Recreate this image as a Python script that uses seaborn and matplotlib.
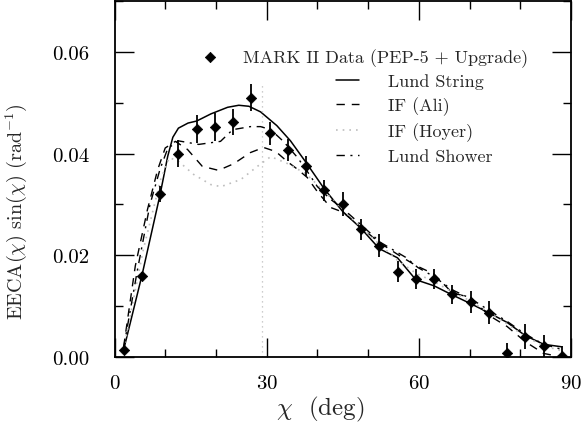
import matplotlib
matplotlib.use("Agg")
import matplotlib.pyplot as plt
import seaborn as sns
from matplotlib.ticker import MultipleLocator

# MARK II data (bin centres, deg)
chi_data = [1.8, 5.4, 9.0, 12.6, 16.2, 19.8, 23.4, 27.0, 30.6, 34.2, 37.8, 41.4, 45.0,
            48.6, 52.2, 55.8, 59.4, 63.0, 66.6, 70.2, 73.8, 77.4, 81.0, 84.6, 88.2]
eeca_data = [0.0013, 0.0160, 0.0320, 0.0400, 0.0448, 0.0452, 0.0462, 0.0510, 0.0440,
             0.0407, 0.0375, 0.0328, 0.0301, 0.0251, 0.0219, 0.0168, 0.0153, 0.0153,
             0.0123, 0.0108, 0.0087, 0.0007, 0.0040, 0.0021, 0.0002]
eeca_err = [0.0003, 0.0008, 0.0016, 0.0026, 0.0028, 0.0028, 0.0026, 0.0026, 0.0023,
            0.0021, 0.0020, 0.0021, 0.0023, 0.0021, 0.0023, 0.0020, 0.0020, 0.0020,
            0.0018, 0.0021, 0.0023, 0.0021, 0.0024, 0.0023, 0.0020]

# Lund String
chi_string = [1.8, 5.4, 9.0, 10.5, 11.5, 12.6, 14.5, 16.2, 19.0, 22.3, 24.5, 26.5, 28.8,
              32.0, 34.7, 37.8, 41.4, 45.0, 48.6, 52.2, 55.8, 59.4, 63.0, 66.6, 70.2,
              73.8, 77.4, 81.0, 84.6, 88.2]
eeca_string = [0.0014, 0.0160, 0.0320, 0.0395, 0.0432, 0.0450, 0.0460, 0.0464, 0.0478,
               0.0491, 0.0495, 0.0493, 0.0482, 0.0455, 0.0425, 0.0382, 0.0330, 0.0286,
               0.0253, 0.0213, 0.0195, 0.0152, 0.0140, 0.0122, 0.0105, 0.0087, 0.0068,
               0.0042, 0.0025, 0.0020]

# IF (Ali)
chi_ali = [1.8, 4.1, 6.5, 8.5, 10.0, 12.0, 14.4, 17.3, 20.5, 23.5, 26.8, 29.4, 31.8, 34.1,
           36.1, 38.0, 40.0, 42.6, 45.0, 48.6, 52.2, 56.4, 59.4, 63.0, 66.6, 70.2, 73.8,
           77.4, 81.0, 84.6, 88.2]
eeca_ali = [0.0020, 0.0179, 0.0290, 0.0368, 0.0411, 0.0424, 0.0408, 0.0375, 0.0367,
            0.0380, 0.0402, 0.0412, 0.0404, 0.0384, 0.0369, 0.0353, 0.0325, 0.0294,
            0.0285, 0.0255, 0.0225, 0.0198, 0.0180, 0.0163, 0.0126, 0.0117, 0.0082,
            0.0060, 0.0030, 0.0007, 0.0000]

# IF (Hoyer)
chi_hoyer = [1.8, 5.7, 9.1, 10.8, 12.6, 15.6, 19.0, 21.0, 24.9, 28.2, 30.8, 34.2, 37.8,
             41.4, 45.0, 48.6, 52.2, 55.8, 59.4, 63.0, 66.6, 70.2, 73.8, 77.4, 81.0,
             84.6, 88.2]
eeca_hoyer = [0.0015, 0.0212, 0.0349, 0.0392, 0.0385, 0.0359, 0.0339, 0.0335, 0.0349,
              0.0375, 0.0394, 0.0380, 0.0360, 0.0325, 0.0290, 0.0255, 0.0222, 0.0190,
              0.0165, 0.0148, 0.0128, 0.0110, 0.0088, 0.0065, 0.0040, 0.0022, 0.0012]
hoyer_step_chi = 29.0
hoyer_step_top = 0.0535

# Lund Shower
chi_shower = [1.8, 4.5, 7.0, 9.0, 10.5, 12.6, 16.6, 20.9, 23.3, 26.8, 28.8, 30.8, 33.3,
              36.1, 38.0, 40.0, 42.6, 45.0, 48.6, 52.5, 57.4, 59.8, 63.0, 66.6, 70.2,
              73.8, 77.4, 81.0, 84.6, 88.2]
eeca_shower = [0.0018, 0.0170, 0.0300, 0.0370, 0.0410, 0.0425, 0.0418, 0.0424, 0.0447,
               0.0453, 0.0453, 0.0447, 0.0424, 0.0392, 0.0365, 0.0335, 0.0310, 0.0292,
               0.0260, 0.0225, 0.0196, 0.0176, 0.0158, 0.0132, 0.0115, 0.0092, 0.0070,
               0.0045, 0.0025, 0.0015]

sns.set_style("ticks")
plt.rcParams["font.family"] = ["cmr10", "DejaVu Serif"]
plt.rcParams["mathtext.fontset"] = "cm"
plt.rcParams["axes.formatter.use_mathtext"] = True
plt.rcParams["axes.unicode_minus"] = False

fig = plt.figure(figsize=(5.83, 4.27), dpi=100)
ax = fig.add_axes([0.1964, 0.1616, 0.783, 0.8337])

hoyer_color = "#bdbdbd"

ax.errorbar(chi_data, eeca_data, yerr=eeca_err, fmt="none", ecolor="black",
            elinewidth=1.3, capsize=0, zorder=4)
sns.scatterplot(x=chi_data, y=eeca_data, marker="D", color="black", s=28,
                edgecolor="black", linewidth=0.5, ax=ax, zorder=5,
                label="MARK II Data (PEP-5 + Upgrade)")

sns.lineplot(x=chi_string, y=eeca_string, ax=ax, color="black", lw=1.1, sort=False,
             estimator=None, label="Lund String")
sns.lineplot(x=chi_ali, y=eeca_ali, ax=ax, color="black", lw=1.0, sort=False,
             estimator=None, linestyle=(0, (6, 5)), label="IF (Ali)")
sns.lineplot(x=chi_hoyer, y=eeca_hoyer, ax=ax, color=hoyer_color, lw=1.2, sort=False,
             estimator=None, linestyle=(0, (1, 3)), label="IF (Hoyer)")
ax.vlines(hoyer_step_chi, 0, hoyer_step_top, color=hoyer_color, lw=0.9,
          linestyle=(0, (1, 3)))
sns.lineplot(x=chi_shower, y=eeca_shower, ax=ax, color="black", lw=1.0, sort=False,
             estimator=None, linestyle=(0, (6, 4, 1.5, 4)), label="Lund Shower")

ax.set_xlim(0, 90)
ax.set_ylim(0, 0.07)
ax.xaxis.set_major_locator(MultipleLocator(30))
ax.xaxis.set_minor_locator(MultipleLocator(10))
ax.yaxis.set_major_locator(MultipleLocator(0.02))
ax.yaxis.set_minor_locator(MultipleLocator(0.01))
ax.yaxis.set_major_formatter(plt.FormatStrFormatter("%.2f"))
ax.tick_params(which="both", direction="in", top=True, right=True, width=1.0,
               labelsize=15, colors="black")
ax.tick_params(axis="y", which="major", length=14, pad=18)
ax.tick_params(axis="x", which="major", length=14, pad=12)
ax.tick_params(which="minor", length=6)
for sp in ax.spines.values():
    sp.set_linewidth(1.3)
    sp.set_color("black")

ax.set_xlabel(r"$\chi$  (deg)", fontsize=18)
ax.xaxis.set_label_coords(0.451, -0.104)
ax.set_ylabel(r"EECA($\chi$) sin($\chi$) (rad$^{-1}$)", fontsize=14.5)
ax.yaxis.set_label_coords(-0.188, 0.41)

handles, labels = ax.get_legend_handles_labels()
leg1 = ax.legend(handles[:1], labels[:1], loc="upper left", frameon=False,
                 bbox_to_anchor=(0.19, 0.868), fontsize=13, handlelength=1.0,
                 handletextpad=1.3, borderaxespad=0, borderpad=0)
ax.add_artist(leg1)
ax.legend(handles[1:], labels[1:], loc="upper left", frameon=False,
          bbox_to_anchor=(0.485, 0.797), fontsize=13, handlelength=1.3,
          handletextpad=1.6, labelspacing=0.4, borderaxespad=0, borderpad=0)

fig.savefig("out.png", dpi=100)
